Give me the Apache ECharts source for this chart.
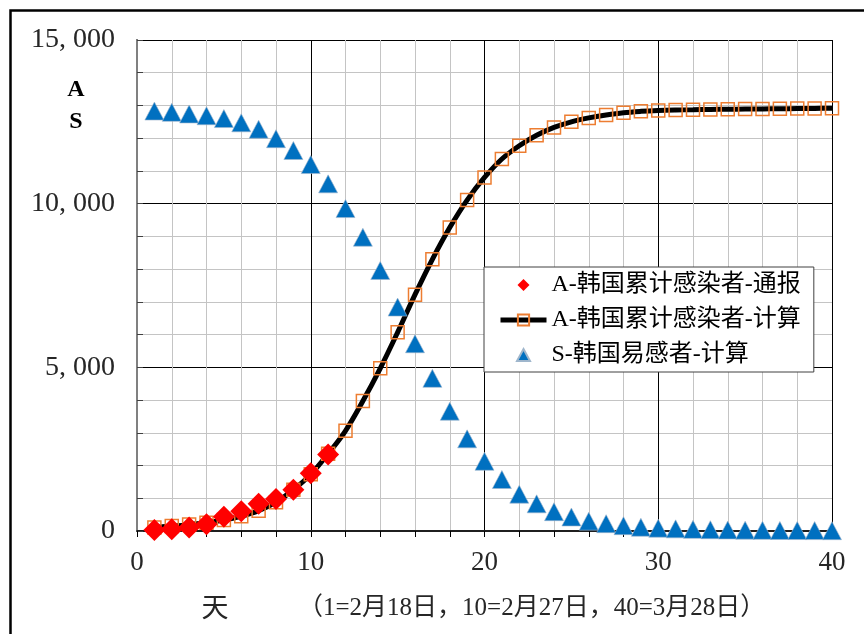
<!DOCTYPE html>
<html><head><meta charset="utf-8">
<script src="https://cdn.jsdelivr.net/npm/echarts@6/dist/echarts.min.js"></script>
<style>html,body{margin:0;padding:0;background:#fff}#c{width:864px;height:634px}</style>
</head><body><div id="c"></div>
<script>
const days = [1,2,3,4,5,6,7,8,9,10,11,12,13,14,15,16,17,18,19,20,21,22,23,24,25,26,27,28,29,30,31,32,33,34,35,36,37,38,39,40];
const reportedDays = [1,2,3,4,5,6,7,8,9,10,11];
const reportedA = [31,51,104,204,433,602,833,977,1261,1766,2337];
const calcA = [110,150,195,250,335,450,620,880,1260,1730,2360,3060,3970,4970,6070,7220,8300,9270,10110,10800,11365,11770,12090,12330,12500,12620,12710,12780,12820,12845,12860,12870,12880,12885,12890,12895,12900,12905,12910,12915];
const calcS = [12830,12790,12740,12685,12600,12470,12275,11985,11625,11195,10605,9850,8975,7960,6840,5720,4665,3660,2815,2130,1573,1125,830,590,428,300,224,163,115,85,65,50,40,32,26,21,17,14,12,10];
const xTicks = [0,10,20,30,40];
const yTicks = [0,5000,10000,15000];
const seriesNames = ['A-韩国累计感染者-通报','A-韩国累计感染者-计算','S-韩国易感者-计算'];
const yAxisName = ['A','S'];
const xAxisName = '天';
const xAxisNote = '（1=2月18日，10=2月27日，40=3月28日）';

const serifFont = "'Liberation Serif','Noto Sans CJK SC',serif";
const zip = (xs, ys) => xs.map((x, i) => [x, ys[i]]);

const chart = echarts.init(document.getElementById('c'), null, {renderer: 'canvas'});
chart.setOption({
  animation: false,
  backgroundColor: '#ffffff',
  grid: {left: 137, top: 40, right: 32, bottom: 103, containLabel: false},
  xAxis: [{
    type: 'value', position: 'bottom',
    min: xTicks[0], max: xTicks[xTicks.length - 1], interval: xTicks[1] - xTicks[0],
    axisLine: {show: true, lineStyle: {color: '#7f7f7f', width: 2}},
    axisTick: {show: false},
    minorTick: {show: false, splitNumber: 5},
    axisLabel: {color: '#262626', fontFamily: serifFont, fontSize: 27, margin: 18},
    splitLine: {show: true, lineStyle: {color: '#000000', width: 1}},
    minorSplitLine: {show: true, lineStyle: {color: '#c4c4c4', width: 1}}
  }, {
    type: 'value', position: 'top',
    min: xTicks[0], max: xTicks[xTicks.length - 1], interval: 2,
    axisLine: {show: true, lineStyle: {color: '#000000', width: 1.5}},
    axisTick: {show: true, inside: true, length: 6, lineStyle: {color: '#000000', width: 1}},
    axisLabel: {show: false},
    splitLine: {show: false}
  }],
  yAxis: [{
    type: 'value', position: 'left',
    min: yTicks[0], max: yTicks[yTicks.length - 1], interval: yTicks[1] - yTicks[0],
    axisLine: {show: true, lineStyle: {color: '#404040', width: 2}},
    axisTick: {show: true, inside: true, length: 6, lineStyle: {color: '#404040', width: 1}},
    minorTick: {show: true, splitNumber: 5, length: 6, lineStyle: {color: '#404040', width: 1}},
    axisLabel: {
      color: '#262626', fontFamily: serifFont, fontSize: 28, margin: 22,
      formatter: v => v === 0 ? '0' : (Math.floor(v / 1000) + ', ' + String(v % 1000).padStart(3, '0'))
    },
    splitLine: {show: true, lineStyle: {color: '#000000', width: 1}},
    minorSplitLine: {show: true, lineStyle: {color: '#c4c4c4', width: 1}}
  }, {
    type: 'value', position: 'right',
    min: yTicks[0], max: yTicks[yTicks.length - 1], interval: yTicks[1] - yTicks[0],
    axisLine: {show: true, lineStyle: {color: '#808080', width: 2}},
    axisTick: {show: false}, axisLabel: {show: false}, splitLine: {show: false}
  }],
  legend: {
    orient: 'vertical', left: 484, top: 267,
    data: [
      {name: seriesNames[0], icon: 'path://M0,0M46,14M17,7L23,1L29,7L23,13Z'},
      {name: seriesNames[1], lineStyle: {color: '#000000', width: 5}},
      {name: seriesNames[2], icon: 'path://M0,0M46,14M23,1L29.5,13L16.5,13Z'}
    ],
    backgroundColor: '#ffffff', borderColor: '#404040', borderWidth: 1, borderRadius: 0,
    padding: [6, 13, 5, 14],
    itemWidth: 46, itemHeight: 14, itemGap: 11,
    textStyle: {fontFamily: serifFont, fontSize: 24, lineHeight: 24, color: '#000000'}
  },
  series: [{
    name: seriesNames[1], type: 'line', smooth: 0.35,
    data: zip(days, calcA),
    symbol: 'rect', symbolSize: 13, showSymbol: true,
    lineStyle: {color: '#000000', width: 5},
    itemStyle: {color: 'rgba(255,255,255,0)', borderColor: '#ED7D31', borderWidth: 1.5},
    z: 2
  }, {
    name: seriesNames[0], type: 'scatter',
    data: zip(reportedDays, reportedA),
    symbol: 'diamond', symbolSize: 22,
    itemStyle: {color: '#FF0000', opacity: 1},
    z: 3
  }, {
    name: seriesNames[2], type: 'scatter',
    data: zip(days, calcS),
    symbol: 'triangle', symbolSize: [19, 18],
    itemStyle: {color: '#0070C0', opacity: 1, borderColor: '#9fb6cc', borderWidth: 0.6},
    z: 3
  }],
  graphic: [
    {type: 'rect', left: 8, top: 8, shape: {x: 0, y: 0, width: 900, height: 700},
     style: {fill: 'none', stroke: '#000000', lineWidth: 2.5}, silent: true, z: -10},
    {type: 'text', x: 76, y: 90, style: {text: yAxisName[0], font: "bold 24px 'Liberation Serif'", fill: '#000', textAlign: 'center', textVerticalAlign: 'middle'}},
    {type: 'text', x: 76, y: 122, style: {text: yAxisName[1], font: "bold 24px 'Liberation Serif'", fill: '#000', textAlign: 'center', textVerticalAlign: 'middle'}},
    {type: 'text', x: 215, y: 607, style: {text: xAxisName, font: "27px 'Noto Sans CJK SC'", fill: '#262626', textAlign: 'center', textVerticalAlign: 'middle'}},
    {type: 'text', x: 298, y: 608, style: {text: xAxisNote, font: "25px 'Liberation Serif','Noto Sans CJK SC'", fill: '#262626', textAlign: 'left', textVerticalAlign: 'middle'}}
  ]
});
</script>
</body></html>
